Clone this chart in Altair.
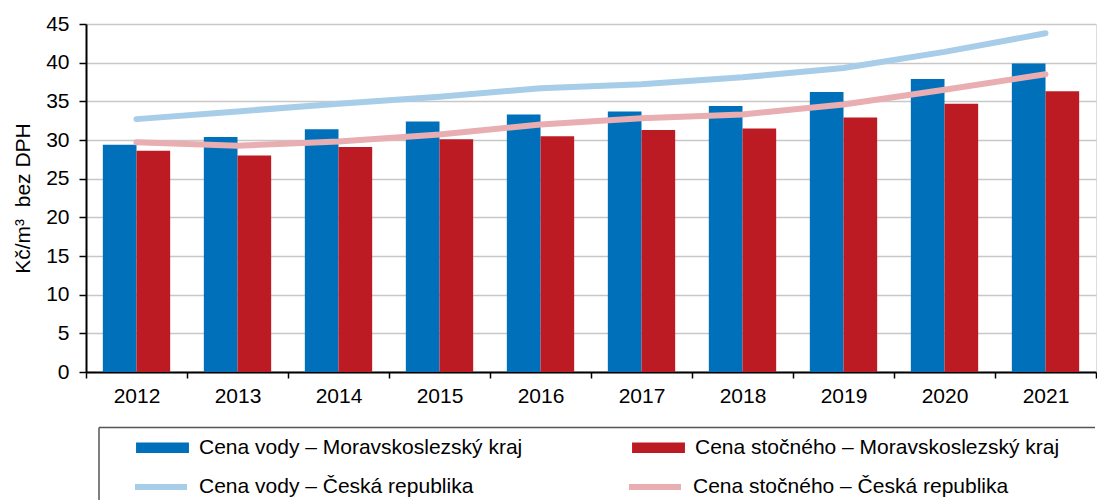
import altair as alt
import pandas as pd

years = ["2012", "2013", "2014", "2015", "2016", "2017", "2018", "2019", "2020", "2021"]
voda_msk = [29.4, 30.4, 31.4, 32.4, 33.3, 33.7, 34.4, 36.2, 37.9, 39.9]
stocne_msk = [28.6, 28.0, 29.1, 30.1, 30.5, 31.3, 31.5, 32.9, 34.7, 36.3]
voda_cr = [32.7, 33.7, 34.7, 35.6, 36.7, 37.2, 38.1, 39.3, 41.4, 43.8]
stocne_cr = [29.7, 29.25, 29.8, 30.7, 32.0, 32.8, 33.3, 34.6, 36.5, 38.5]

bar_series = ["Cena vody – Moravskoslezský kraj", "Cena stočného – Moravskoslezský kraj"]
line_series = ["Cena vody – Česká republika", "Cena stočného – Česká republika"]
bar_colors = ["#0070BA", "#BD1B24"]
line_colors = ["#A7CDE8", "#E8AEB2"]

FONT = "Liberation Sans"
FS = 21

bars = pd.DataFrame({
    "rok": years * 2,
    "hodnota": voda_msk + stocne_msk,
    "serie": [bar_series[0]] * len(years) + [bar_series[1]] * len(years),
})
lines = pd.DataFrame({
    "rok": years * 2,
    "hodnota": voda_cr + stocne_cr,
    "serie": [line_series[0]] * len(years) + [line_series[1]] * len(years),
})
box = pd.DataFrame({"k": [0]})

x_axis = alt.Axis(
    labelAngle=0, tickBand="extent", tickSize=6, tickColor="black", tickWidth=1.5,
    domainColor="black", domainWidth=2, labelPadding=7, grid=False,
    labelFont=FONT, labelFontSize=FS, labelColor="black",
)
y_axis = alt.Axis(
    values=list(range(0, 50, 5)), tickSize=7, tickColor="black", tickWidth=1.5,
    domainColor="black", domainWidth=2, labelPadding=10, labelOverlap=False,
    gridColor="#C8C8C8", gridWidth=1.5,
    labelFont=FONT, labelFontSize=FS, labelColor="black",
    titleFont=FONT, titleFontSize=FS, titleFontWeight="normal", titleColor="black",
    titlePadding=12,
)
x_scale = alt.Scale(paddingInner=0, paddingOuter=0)
y_scale = alt.Scale(domain=[0, 45], nice=False)
Y_TITLE = "Kč/m³\u00a0 bez DPH"

bar_layer = alt.Chart(bars).mark_bar().encode(
    x=alt.X("rok:N", sort=years, title=None, scale=x_scale, axis=x_axis),
    y=alt.Y("hodnota:Q", title=Y_TITLE, scale=y_scale, axis=y_axis),
    xOffset=alt.XOffset("serie:N", sort=bar_series,
                        scale=alt.Scale(paddingOuter=0.5, paddingInner=0)),
    color=alt.Color(
        "serie:N",
        scale=alt.Scale(domain=bar_series, range=bar_colors),
        legend=alt.Legend(
            title=None, orient="none", legendX=50, legendY=397, direction="horizontal",
            columns=2, columnPadding=109, padding=0,
            symbolType="M-1,-0.2H1V0.2H-1Z", symbolSize=2800, symbolStrokeWidth=0,
            labelFont=FONT, labelFontSize=FS, labelColor="black", labelOffset=10,
            labelLimit=600,
        ),
    ),
)

line_layer = alt.Chart(lines).mark_line(strokeWidth=6, strokeCap="round", strokeJoin="round").encode(
    x=alt.X("rok:N", sort=years, title=None, scale=x_scale, axis=x_axis),
    y=alt.Y("hodnota:Q", title=Y_TITLE, scale=y_scale, axis=y_axis),
    color=alt.Color(
        "serie:N",
        scale=alt.Scale(domain=line_series, range=line_colors),
        legend=alt.Legend(
            title=None, orient="none", legendX=46, legendY=434, direction="horizontal",
            columns=2, columnPadding=143, padding=0,
            symbolType="stroke", symbolSize=2704, symbolStrokeWidth=6,
            labelFont=FONT, labelFontSize=FS, labelColor="black", labelOffset=9,
            labelLimit=600,
        ),
    ),
)

box_top = alt.Chart(box).mark_rule(stroke="#555555", strokeWidth=1.5).encode(
    x=alt.value(13), x2=alt.value(1009), y=alt.value(403.5)
)
box_left = alt.Chart(box).mark_rule(stroke="#555555", strokeWidth=1.5).encode(
    x=alt.value(13), y=alt.value(403.5), y2=alt.value(476)
)

chart = (
    alt.layer(bar_layer, line_layer, box_top, box_left)
    .resolve_scale(color="independent")
    .properties(width=1010, height=348, padding={"left": 12, "top": 13, "right": 0, "bottom": 0})
    .configure_view(stroke="black", strokeWidth=2)
    .configure(background="white")
)

chart.save("out.html", embed_options={"renderer": "svg", "actions": False})
